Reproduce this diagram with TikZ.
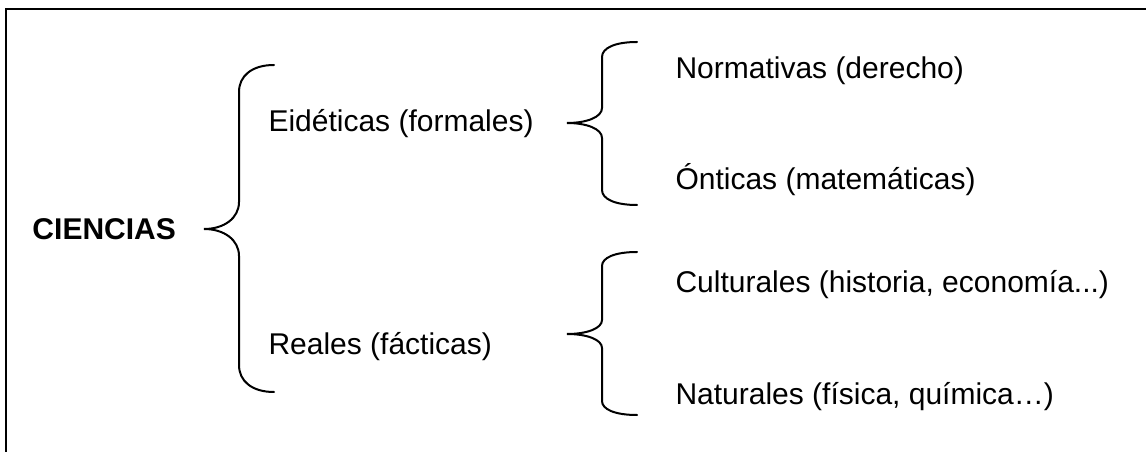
\documentclass[tikz,border=0pt]{standalone}
\usepackage{fontspec}
\setmainfont{Liberation Sans}
\usetikzlibrary{positioning}

% tip x, tip y, top y, bottom y, bend
\newcommand{\llave}[5]{%
  \draw[llavelinea] (#1+70,#3) .. controls (#1+48,#3) and (#1+35,#3+0.4*#5) .. (#1+35,#3+#5)
    -- (#1+35,#2-#5) .. controls (#1+35,#2-0.4*#5) and (#1+20,#2) .. (#1,#2)
    .. controls (#1+20,#2) and (#1+35,#2+0.4*#5) .. (#1+35,#2+#5)
    -- (#1+35,#4-#5) .. controls (#1+35,#4-0.4*#5) and (#1+48,#4) .. (#1+70,#4);}

\tikzset{
  rama/.style={anchor=base west, inner sep=0pt, font=\fontsize{12}{14}\selectfont},
  llavelinea/.style={line width=0.8pt, line cap=round},
}

\begin{document}
\begin{tikzpicture}[x=0.4pt, y=-0.4pt]
    \useasboundingbox (0,0) rectangle (1146,452);
    \draw[line width=0.8pt] (6,452) -- (6,9) -- (1146,9);

    \node[rama, font=\fontsize{12}{14}\selectfont\bfseries] (ciencias) at (32,240) {CIENCIAS};
    \node[rama] (eideticas) at (268,132) {Eidéticas (formales)};
    \node[rama] (reales) at (268,355) {Reales (fácticas)};
    \node[rama] (normativas) at (675,79) {Normativas (derecho)};
    \node[rama] (onticas) at (675,190) {Ónticas (matemáticas)};
    \node[rama] (culturales) at (675,293) {Culturales (historia, economía...)};
    \node[rama] (naturales) at (675,404) {Naturales (física, química…)};

    \llave{204}{229}{65}{392}{27}
    \llave{567}{123}{42}{205}{15}
    \llave{567}{334}{252}{415}{14}
\end{tikzpicture}
\end{document}
